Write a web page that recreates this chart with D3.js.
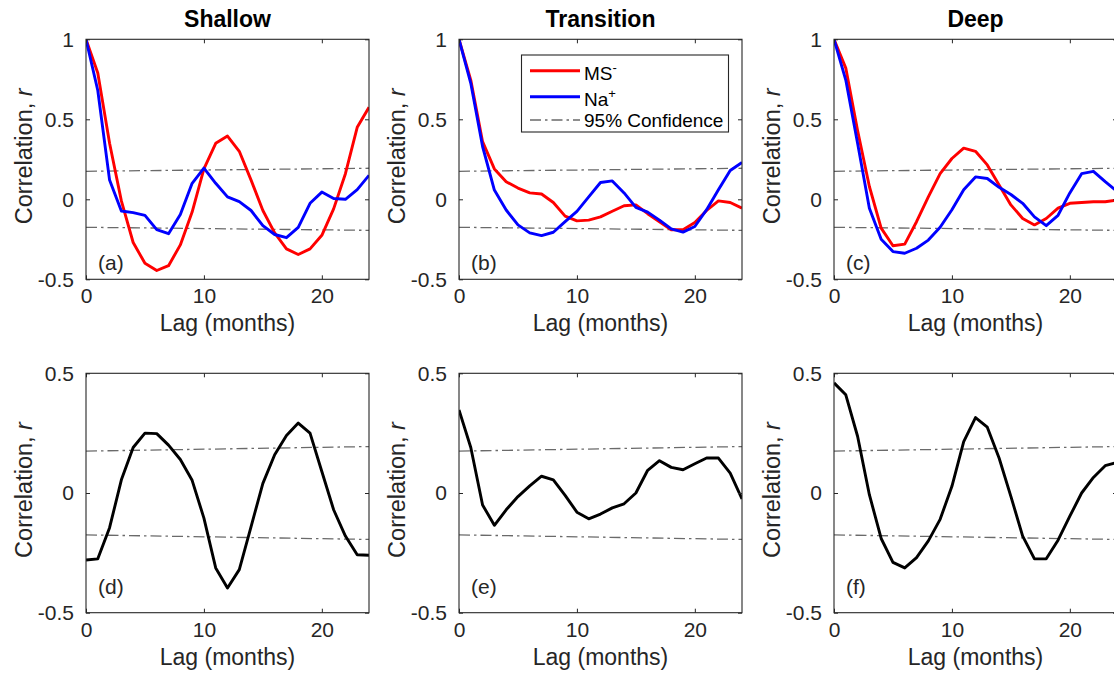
<!DOCTYPE html>
<html>
<head>
<meta charset="utf-8">
<script src="https://cdn.jsdelivr.net/npm/d3@7"></script>
<style>
  html, body { margin: 0; padding: 0; background: #fff; }
  svg { display: block; font-family: "Liberation Sans", Arial, Helvetica, sans-serif; }
</style>
</head>
<body>
<svg id="chart" width="1114" height="675"></svg>
<script>
// ---------------- data ----------------
const lags = [0,1,2,3,4,5,6,7,8,9,10,11,12,13,14,15,16,17,18,19,20,21,22,23,24];

const columnTitles = ["Shallow", "Transition", "Deep"];
const panelLetters = ["(a)", "(b)", "(c)", "(d)", "(e)", "(f)"];

// Top row: autocorrelation of MS- (red) and Na+ (blue)
const msShallow    = [1.0, 0.79, 0.35, -0.01, -0.27, -0.40, -0.445, -0.415, -0.285, -0.08, 0.19, 0.35, 0.395, 0.30, 0.12, -0.07, -0.21, -0.31, -0.345, -0.31, -0.225, -0.06, 0.16, 0.45, 0.575];
const naShallow    = [1.0, 0.68, 0.12, -0.073, -0.083, -0.10, -0.19, -0.215, -0.095, 0.10, 0.195, 0.10, 0.015, -0.015, -0.07, -0.165, -0.22, -0.24, -0.175, -0.025, 0.045, 0.005, 0.0, 0.06, 0.15];
const msTransition = [1.0, 0.745, 0.36, 0.19, 0.11, 0.07, 0.04, 0.033, -0.02, -0.105, -0.135, -0.13, -0.11, -0.075, -0.04, -0.035, -0.09, -0.14, -0.19, -0.19, -0.145, -0.07, -0.01, -0.02, -0.055];
const naTransition = [1.0, 0.725, 0.33, 0.058, -0.067, -0.16, -0.21, -0.227, -0.206, -0.14, -0.075, 0.015, 0.105, 0.115, 0.04, -0.05, -0.08, -0.13, -0.185, -0.205, -0.17, -0.065, 0.06, 0.18, 0.23];
const msDeep       = [1.0, 0.82, 0.43, 0.08, -0.18, -0.29, -0.28, -0.14, 0.015, 0.16, 0.255, 0.32, 0.30, 0.215, 0.09, -0.035, -0.12, -0.16, -0.12, -0.055, -0.025, -0.02, -0.015, -0.015, -0.005];
const naDeep       = [1.0, 0.745, 0.35, -0.056, -0.25, -0.327, -0.337, -0.306, -0.255, -0.175, -0.065, 0.06, 0.14, 0.13, 0.075, 0.03, -0.025, -0.11, -0.165, -0.10, 0.04, 0.16, 0.175, 0.11, 0.05];

// Bottom row: cross-correlation MS- vs Na+ (black)
const crossShallow    = [-0.28, -0.275, -0.145, 0.055, 0.19, 0.25, 0.248, 0.20, 0.14, 0.053, -0.105, -0.313, -0.397, -0.32, -0.14, 0.04, 0.16, 0.24, 0.292, 0.25, 0.09, -0.07, -0.18, -0.258, -0.26];
const crossTransition = [0.347, 0.19, -0.05, -0.135, -0.07, -0.015, 0.03, 0.07, 0.055, -0.01, -0.08, -0.108, -0.088, -0.062, -0.045, 0.0, 0.095, 0.135, 0.107, 0.097, 0.122, 0.146, 0.146, 0.083, -0.025];
const crossDeep       = [0.46, 0.41, 0.237, -0.007, -0.19, -0.29, -0.313, -0.27, -0.2, -0.11, 0.028, 0.215, 0.315, 0.275, 0.146, -0.014, -0.18, -0.275, -0.275, -0.197, -0.097, 0.0, 0.065, 0.114, 0.128];

// 95% confidence bounds (end points, lag 0 and lag 24)
const confLags  = [0, 24];
const confUpper = [0.175, 0.194];
const confLower = [-0.175, -0.194];

const xTicks     = [0, 10, 20];
const yTicksTop  = [-0.5, 0, 0.5, 1];
const yTicksBot  = [-0.5, 0, 0.5];
const xLabel = "Lag (months)";
const legendLabels = [["MS", "-"], ["Na", "+"], ["95% Confidence", ""]];

// ---------------- layout ----------------
const svg = d3.select("#chart");
svg.append("rect").attr("width", 1114).attr("height", 675).attr("fill", "#fff");

const lefts = [86, 459, 834];
const panelW = 283;
const rows = [
  { top: 39.3, h: 240, domain: [-0.5, 1], ticks: yTicksTop, letterOff: 9,
    series: [[{v: msShallow, c: "#ff0000"}, {v: naShallow, c: "#0000ff"}],
             [{v: msTransition, c: "#ff0000"}, {v: naTransition, c: "#0000ff"}],
             [{v: msDeep, c: "#ff0000"}, {v: naDeep, c: "#0000ff"}]] },
  { top: 373.3, h: 239.4, domain: [-0.5, 0.5], ticks: yTicksBot, letterOff: 19,
    series: [[{v: crossShallow, c: "#000000"}],
             [{v: crossTransition, c: "#000000"}],
             [{v: crossDeep, c: "#000000"}]] }
];

const axisColor = "#262626";
const confColor = "#6a6a6a";
const confDash = "11,4,2.5,4";
const fmt = d => String(d);

rows.forEach((row, ri) => {
  lefts.forEach((left, ci) => {
    const x = d3.scaleLinear().domain([0, 24]).range([left, left + panelW]);
    const y = d3.scaleLinear().domain(row.domain).range([row.top + row.h, row.top]);
    const g = svg.append("g");
    const clipId = `clip-${ri}-${ci}`;
    svg.append("clipPath").attr("id", clipId).append("rect")
      .attr("x", left).attr("y", row.top).attr("width", panelW).attr("height", row.h);

    // confidence lines
    const confLine = d3.line().x((d, i) => x(confLags[i])).y(d => y(d));
    [confUpper, confLower].forEach(arr => {
      g.append("path").attr("d", confLine(arr))
        .attr("fill", "none").attr("stroke", confColor)
        .attr("stroke-width", 1.3).attr("stroke-dasharray", confDash);
    });

    // data lines
    const line = d3.line().x((d, i) => x(lags[i])).y(d => y(d));
    row.series[ci].forEach(s => {
      g.append("path").attr("d", line(s.v))
        .attr("clip-path", `url(#${clipId})`)
        .attr("fill", "none").attr("stroke", s.c)
        .attr("stroke-width", 2.9).attr("stroke-linejoin", "round");
    });

    // axes
    const bottom = row.top + row.h;
    const right = left + panelW;
    const ax = g.append("g").attr("transform", `translate(0,${bottom})`)
      .call(d3.axisBottom(x).tickValues(xTicks).tickFormat(fmt).tickSizeInner(-4).tickSizeOuter(0).tickPadding(9));
    const axT = g.append("g").attr("transform", `translate(0,${row.top})`)
      .call(d3.axisTop(x).tickValues(xTicks).tickFormat("").tickSizeInner(-4).tickSizeOuter(0));
    const ay = g.append("g").attr("transform", `translate(${left},0)`)
      .call(d3.axisLeft(y).tickValues(row.ticks).tickFormat(fmt).tickSizeInner(-4).tickSizeOuter(0).tickPadding(12));
    const ayR = g.append("g").attr("transform", `translate(${right},0)`)
      .call(d3.axisRight(y).tickValues(row.ticks).tickFormat("").tickSizeInner(-4).tickSizeOuter(0));
    [ax, axT, ay, ayR].forEach(a => {
      a.select(".domain").remove();
      a.selectAll("line").attr("stroke", axisColor);
      a.selectAll("text").attr("fill", axisColor).style("font-size", "21px")
        .style("font-family", "'Liberation Sans', Arial, sans-serif");
    });
    g.append("rect").attr("x", left).attr("y", row.top).attr("width", panelW).attr("height", row.h)
      .attr("fill", "none").attr("stroke", axisColor).attr("stroke-width", 1.1);

    // x label
    g.append("text").attr("x", left + panelW / 2).attr("y", bottom + 52)
      .attr("text-anchor", "middle").attr("fill", axisColor).style("font-size", "23px").text(xLabel);

    // y label
    const yl = g.append("text")
      .attr("transform", `translate(${left - 54},${row.top + row.h / 2 - 3}) rotate(-90)`)
      .attr("text-anchor", "middle").attr("fill", axisColor).style("font-size", "23.5px");
    yl.append("tspan").text("Correlation, ");
    yl.append("tspan").attr("font-style", "italic").text("r");

    // panel letter
    g.append("text").attr("x", left + 12).attr("y", bottom - row.letterOff)
      .attr("fill", axisColor).style("font-size", "21px").text(panelLetters[ri * 3 + ci]);

    // title (top row)
    if (ri === 0) {
      g.append("text").attr("x", left + panelW / 2).attr("y", 27)
        .attr("text-anchor", "middle").attr("fill", "#000").style("font-size", "23px")
        .style("font-weight", "bold").text(columnTitles[ci]);
    }
  });
});

// ---------------- legend (panel b) ----------------
const lg = svg.append("g");
lg.append("rect").attr("x", 521.5).attr("y", 55).attr("width", 207).attr("height", 77)
  .attr("fill", "#fff").attr("stroke", axisColor).attr("stroke-width", 1.1);
const legendStyles = [
  { c: "#ff0000", w: 2.9, dash: null, ly: 70.7, ty: 79.5 },
  { c: "#0000ff", w: 2.9, dash: null, ly: 96.7, ty: 106 },
  { c: confColor, w: 1.3, dash: confDash, ly: 120, ty: 126.5 }
];
legendLabels.forEach((lab, i) => {
  const st = legendStyles[i];
  const ln = lg.append("line").attr("x1", 530).attr("x2", 580).attr("y1", st.ly).attr("y2", st.ly)
    .attr("stroke", st.c).attr("stroke-width", st.w);
  if (st.dash) ln.attr("stroke-dasharray", st.dash);
  const t = lg.append("text").attr("x", 584).attr("y", st.ty).attr("fill", "#000").style("font-size", "19px");
  t.append("tspan").text(lab[0]);
  if (lab[1]) t.append("tspan").attr("dy", -8).style("font-size", "13px").text(lab[1]);
});
</script>
</body>
</html>
